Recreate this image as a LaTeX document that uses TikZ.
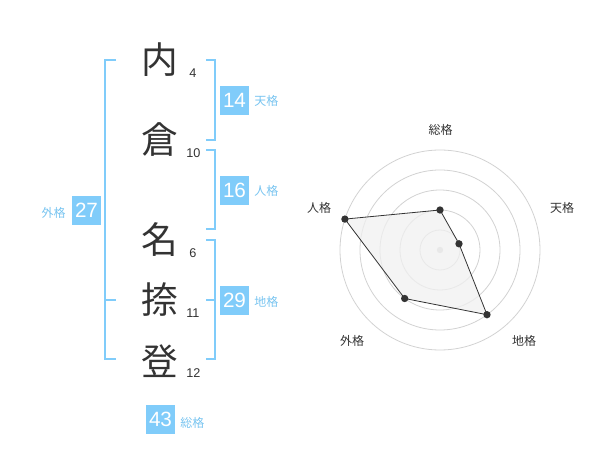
\documentclass[tikz,border=0pt]{standalone}
\usepackage{fontspec}
\newfontfamily\cjk{Noto Sans CJK JP}
\newfontfamily\num{Liberation Sans}
\definecolor{kblue}{RGB}{128,204,250}
\definecolor{lblue}{RGB}{120,196,240}
\definecolor{dk}{RGB}{51,51,51}
\definecolor{ring}{RGB}{210,210,210}
\definecolor{area}{RGB}{240,240,240}
\begin{document}
\begin{tikzpicture}[x=0.75pt,y=-0.75pt,
  kanji/.style={font=\cjk\fontsize{27.5}{27.5}\selectfont,text=dk,inner sep=0pt},
  strokes/.style={font=\num\fontsize{9.5}{10}\selectfont,text=dk,inner sep=0pt},
  valbox/.style={fill=kblue,text=white,minimum width=21.75pt,minimum height=21.75pt,inner sep=0pt,font=\num\fontsize{15.5}{15.5}\selectfont},
  kaku/.style={font=\cjk\fontsize{9}{9}\selectfont,text=lblue,inner sep=0pt},
  brk/.style={draw=kblue,line width=1.5pt},
  axlabel/.style={font=\cjk\fontsize{9}{9}\selectfont,text=dk,inner sep=0pt},
  ringc/.style={draw=ring,line width=0.6pt},
  dot/.style={circle,fill=dk,inner sep=0pt,minimum size=5.5pt}]
\useasboundingbox (0,0) rectangle (600,470);
% kanji
\node[kanji] (k1) at (160,60) {内};
\node[kanji] (k2) at (160,140) {倉};
\node[kanji] (k3) at (160,240) {名};
\node[kanji] (k4) at (160,300) {捺};
\node[kanji] (k5) at (160,361) {登};
\node[strokes,anchor=west] (s1) at (189,73) {4};
\node[strokes,anchor=west] (s2) at (186,153) {10};
\node[strokes,anchor=west] (s3) at (189,253) {6};
\node[strokes,anchor=west] (s4) at (186,313) {11};
\node[strokes,anchor=west] (s5) at (186,373) {12};
% brackets
\coordinate (a1) at (116,60); \coordinate (a2) at (105,60);
\coordinate (a3) at (105,359); \coordinate (a4) at (116,359);
\coordinate (a5) at (105,300); \coordinate (a6) at (116,300);
\draw[brk] (a1) -- (a2) -- (a3) -- (a4);
\draw[brk] (a5) -- (a6);
\coordinate (b1) at (206,60); \coordinate (b2) at (215,60);
\coordinate (b3) at (215,140); \coordinate (b4) at (206,140);
\draw[brk] (b1) -- (b2) -- (b3) -- (b4);
\coordinate (c1) at (206,150); \coordinate (c2) at (215,150);
\coordinate (c3) at (215,229); \coordinate (c4) at (206,229);
\draw[brk] (c1) -- (c2) -- (c3) -- (c4);
\coordinate (d1) at (206,240); \coordinate (d2) at (215,240);
\coordinate (d3) at (215,359); \coordinate (d4) at (206,359);
\coordinate (d5) at (206,300); \coordinate (d6) at (215,300);
\draw[brk] (d1) -- (d2) -- (d3) -- (d4);
\draw[brk] (d5) -- (d6);
% value boxes
\node[valbox] (v1) at (234.5,100.5) {14};
\node[kaku,anchor=west] (l1) at (254,101) {天格};
\node[valbox] (v2) at (234.5,190.5) {16};
\node[kaku,anchor=west] (l2) at (254,191) {人格};
\node[valbox] (v3) at (86.5,210.5) {27};
\node[kaku,anchor=east] (l3) at (66,213) {外格};
\node[valbox] (v4) at (234.5,300.5) {29};
\node[kaku,anchor=west] (l4) at (254,302) {地格};
\node[valbox] (v5) at (160.5,419) {43};
\node[kaku,anchor=west] (l5) at (180,423) {総格};
% radar
\coordinate (o) at (440,250);
\foreach \r in {20,40,60,80,100} \draw[ringc] (o) circle[radius=\r];
\fill[ring] (o) circle[radius=3.2];
\coordinate (p1) at (440,210);
\coordinate (p2) at (459,243.8);
\coordinate (p3) at (487,314.7);
\coordinate (p4) at (404.7,298.5);
\coordinate (p5) at (344.9,219.1);
\draw[draw=dk,fill=area,fill opacity=0.75,line width=0.6pt] (p1) -- (p2) -- (p3) -- (p4) -- (p5) -- cycle;
\foreach \p in {p1,p2,p3,p4,p5} \node[dot] at (\p) {};
\node[axlabel] (t1) at (440.7,130) {総格};
\node[axlabel] (t2) at (562,208) {天格};
\node[axlabel] (t3) at (524,341) {地格};
\node[axlabel] (t4) at (352,341) {外格};
\node[axlabel] (t5) at (319,208) {人格};
\end{tikzpicture}
\end{document}
